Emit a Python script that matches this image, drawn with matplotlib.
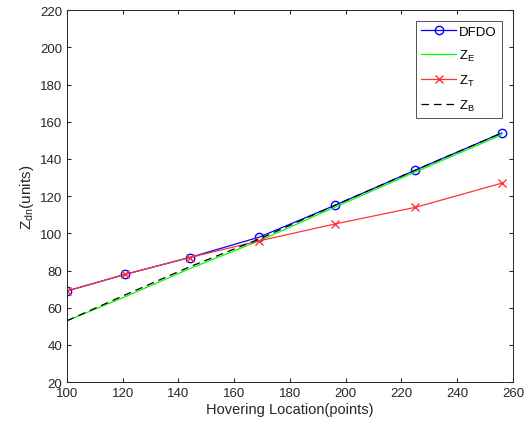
import matplotlib
matplotlib.use("Agg")
import matplotlib.pyplot as plt

plt.rcParams["font.family"] = ["Liberation Sans", "DejaVu Sans"]
plt.rcParams["mathtext.default"] = "regular"

# Hovering locations (points)
x = [100, 121, 144, 169, 196, 225, 256]

# Series
dfdo = [69, 78, 87, 98, 115, 134, 154]
z_e = [53, 66, 81, 96, 114, 133, 153]
z_t = [69, 78, 87, 96, 105, 114, 127]
z_b = [53, 67, 82, 97, 115, 134, 154]

x_ticks = list(range(100, 261, 20))
y_ticks = list(range(20, 221, 20))

fig = plt.figure(figsize=(5.31, 4.31), dpi=100)
ax = fig.add_axes([0.126, 0.111, 0.840, 0.863])

ax.plot(x, dfdo, color="blue", marker="o", markerfacecolor="none",
        markersize=6, linewidth=0.9, label="DFDO")
ax.plot(x, z_e, color="#00ff00", linewidth=0.9, label="$Z_E$")
ax.plot(x, z_t, color="#ff3333", marker="x", markersize=6,
        linewidth=0.9, label="$Z_T$")
ax.plot(x, z_b, color="black", linestyle=(0, (6, 4)), linewidth=0.9,
        label="$Z_B$")

ax.set_xlim(100, 260)
ax.set_ylim(20, 220)
ax.set_xticks(x_ticks)
ax.set_yticks(y_ticks)
ax.tick_params(direction="in", length=3, labelsize=9.5, colors="#262626",
               top=True, right=True, labeltop=False, labelright=False)
for sp in ax.spines.values():
    sp.set_color("#262626")
    sp.set_linewidth(0.7)

ax.set_xlabel("Hovering Location(points)", fontsize=10.5, color="#262626",
              labelpad=2)
ax.set_ylabel("$Z_{dn}$(units)", fontsize=11, color="#262626", labelpad=3)

leg = ax.legend(loc="upper right", fontsize=9.5, frameon=True, fancybox=False,
                edgecolor="#262626", handlelength=2.6, borderpad=0.4,
                labelspacing=0.75, handletextpad=0.25,
                bbox_to_anchor=(0.99, 0.99))
leg.get_frame().set_linewidth(0.7)

fig.savefig("out.png", dpi=100)
